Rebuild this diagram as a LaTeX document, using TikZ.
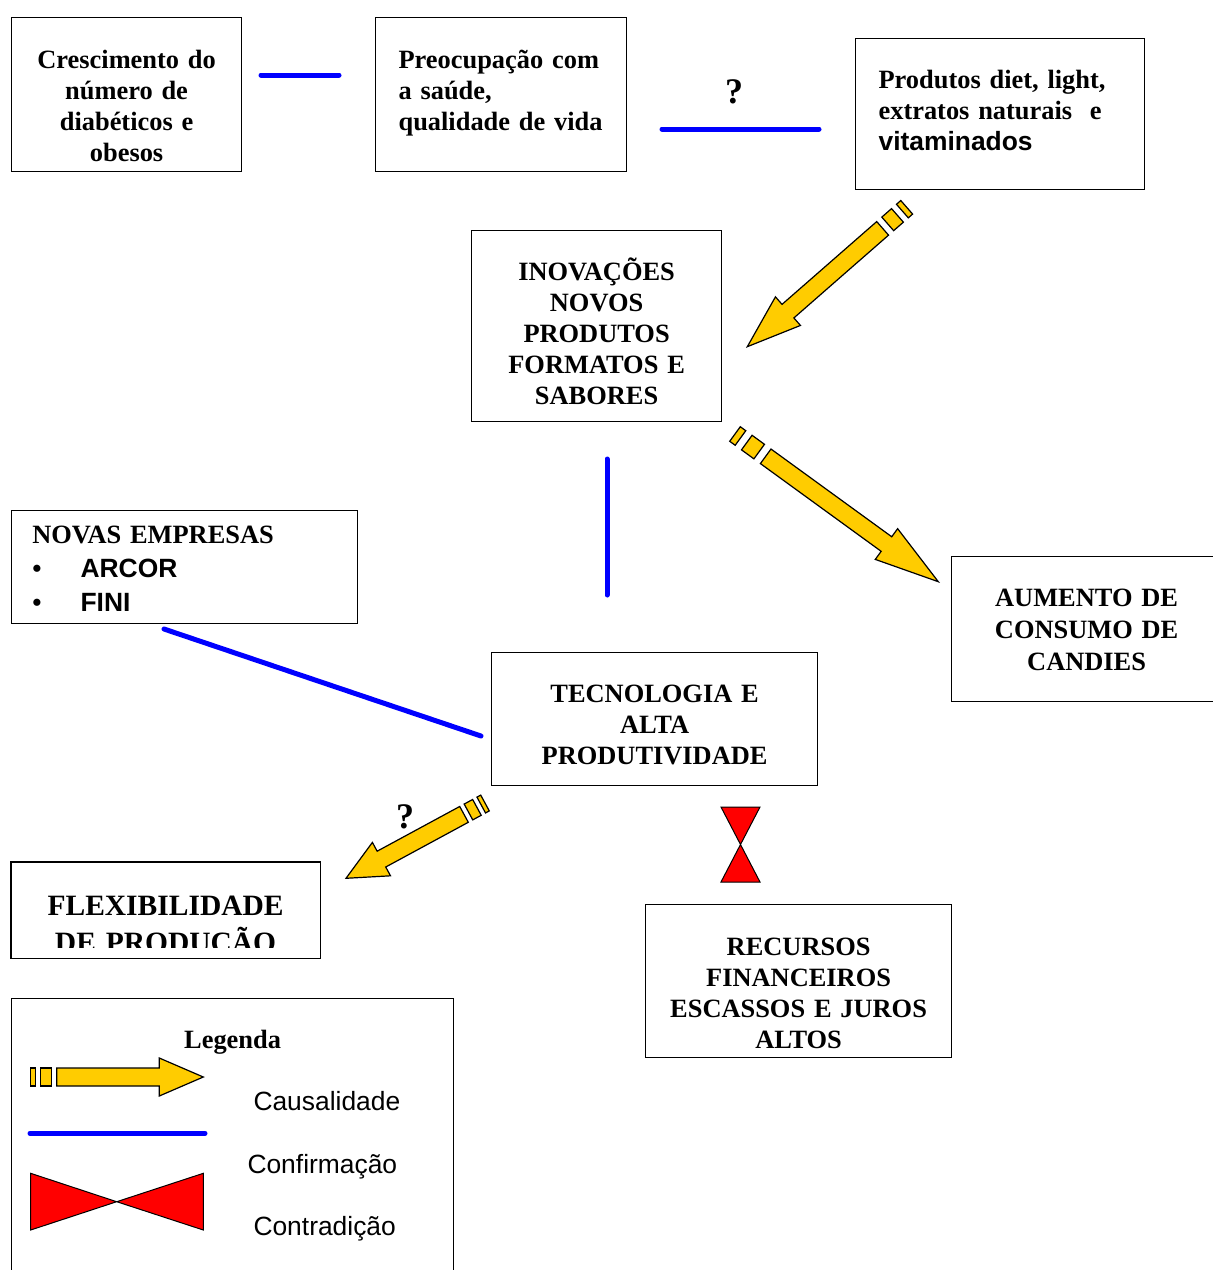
\documentclass[tikz,border=0pt]{standalone}
\usepackage{fontspec}
\setmainfont{Liberation Serif}
\setsansfont{Liberation Sans}
\usetikzlibrary{calc}

\definecolor{causalyellow}{RGB}{255,204,0}
\newcommand{\diagfont}{\bfseries\fontsize{26.4}{31}\selectfont}
\newcommand{\legfont}{\sffamily\fontsize{26.4}{31}\selectfont}

\tikzset{
  box/.style={draw, line width=1.2pt, inner sep=0pt, anchor=north west, font=\diagfont},
  boxline/.style={line width=1.2pt},
  confirm/.style={draw=blue, line width=5pt, line cap=round},
  causal/.style={fill=causalyellow, draw=black, line width=1.2pt, line join=miter},
  contra/.style={fill=red, draw=black, line width=1pt},
  qmark/.style={inner sep=0pt, font=\bfseries\fontsize{36}{40}\selectfont},
  legtext/.style={inner sep=0pt, anchor=base west, font=\legfont}
}

% block arrow with two stripes at the tail, from #1 to #2
\newcommand{\causalarrow}[2]{%
  \path let \p1=(#1), \p2=(#2) in
    \pgfextra{%
      \pgfmathparse{atan2(\y2-\y1,\x2-\x1)}\xdef\causalang{\pgfmathresult}%
      \pgfmathparse{veclen(\x2-\x1,\y2-\y1)}\xdef\causallen{\pgfmathresult}};
  \begin{scope}[shift={(#1)}, rotate=\causalang, x=\causallen pt, y=1pt]
    \filldraw[causal] (0,-9) rectangle (0.027,9);
    \filldraw[causal] (0.058,-9) rectangle (0.119,9);
    \filldraw[causal] (0.151,-9) -- (0.745,-9) -- (0.745,-19) -- (1,0)
      -- (0.745,19) -- (0.745,9) -- (0.151,9) -- cycle;
  \end{scope}}

\begin{document}
\begin{tikzpicture}[x=1pt, y=-1pt]
    \useasboundingbox (0,0) rectangle (1213,1270);
    \clip (0,0) rectangle (1213,1270);

    \node[box, align=center, minimum width=230pt, text width=220pt, text height=51.3pt, text depth=102.7pt]
      (cresc) at (11,17) {Crescimento do\\número de\\diabéticos e\\obesos};
    \node[box, align=left, minimum width=251pt, text width=205pt, text height=51.3pt, text depth=102.7pt]
      (saude) at (375,17) {Preocupação com\\a saúde,\\qualidade de vida};
    \node[box, align=left, minimum width=289pt, text width=243pt, text height=49.7pt, text depth=101.3pt]
      (diet) at (855,38) {Produtos diet, light,\\extratos naturais\ \ e\\{\sffamily vitaminados}};
    \node[box, align=center, minimum width=250pt, text width=240pt, text height=50pt, text depth=141pt]
      (inov) at (471,230) {INOVAÇÕES\\NOVOS\\PRODUTOS\\FORMATOS E\\SABORES};
    \node[box, align=left, minimum width=346pt, text width=304.6pt, text height=33.3pt, text depth=79.7pt,
      font=\diagfont\fontsize{26.4}{34}\selectfont]
      (empresas) at (11,510) {NOVAS EMPRESAS\\\makebox[48.3pt][l]{\textbullet}{\sffamily ARCOR}\\\makebox[48.3pt][l]{\textbullet}{\sffamily FINI}};
    \node[box, align=center, minimum width=270pt, text width=260pt, text height=50pt, text depth=95pt,
      font=\diagfont\fontsize{26.4}{32}\selectfont]
      (consumo) at (951,556) {AUMENTO DE\\CONSUMO DE\\CANDIES};
    \node[box, align=center, minimum width=326pt, text width=316pt, text height=50pt, text depth=83pt]
      (tecno) at (491,652) {TECNOLOGIA E\\ALTA\\PRODUTIVIDADE};
    \begin{scope}
      \clip (0,0) rectangle (1213,947);
      \node[box, draw=none, align=center, minimum width=308pt, text width=302pt, text height=53pt, text depth=42pt,
        font=\bfseries\fontsize{29.5}{37}\selectfont]
        (flex) at (11,862) {FLEXIBILIDADE\\DE PRODUÇÃO};
    \end{scope}
    \draw[boxline] (flex.north west) rectangle (flex.south east);
    \node[box, align=center, minimum width=306pt, text width=296pt, text height=51pt, text depth=102pt]
      (recursos) at (645,904) {RECURSOS\\FINANCEIROS\\ESCASSOS E JUROS\\ALTOS};
    \node[box, align=center, minimum width=442pt, text width=432pt, text height=50pt, text depth=242pt]
      (legenda) at (11,998) {Legenda};

    \coordinate (c1a) at (261,75);
    \coordinate (c1b) at (339,75);
    \coordinate (c2a) at (662,129);
    \coordinate (c2b) at (819,129);
    \coordinate (c3a) at (607,459);
    \coordinate (c3b) at (607,595);
    \coordinate (c4a) at (164,629);
    \coordinate (c4b) at (481,736);
    \draw[confirm] (c1a) -- (c1b);
    \draw[confirm] (c2a) -- (c2b);
    \draw[confirm] (c3a) -- (c3b);
    \draw[confirm] (c4a) -- (c4b);
    \node[qmark] (q1) at (734,92) {?};

    \coordinate (a1s) at (906.7,207.3);
    \coordinate (a1e) at (747.3,346.7);
    \coordinate (a2s) at (735,434);
    \coordinate (a2e) at (938.3,581.7);
    \coordinate (a3s) at (485,803);
    \coordinate (a3e) at (346,878.3);
    \causalarrow{a1s}{a1e}
    \causalarrow{a2s}{a2e}
    \causalarrow{a3s}{a3e}
    \node[qmark] (q2) at (405,817) {?};

    \filldraw[contra] (721,807) -- (760,807) -- (740.5,844.5) -- cycle
      (740.5,844.5) -- (760,882) -- (721,882) -- cycle;

    % legend
    \coordinate (l1s) at (30.7,1077);
    \coordinate (l1e) at (203.3,1077);
    \causalarrow{l1s}{l1e}
    \node[legtext] (causal) at (253.3,1110) {Causalidade};
    \coordinate (l2a) at (30,1133.3);
    \coordinate (l2b) at (205,1133.3);
    \draw[confirm] (l2a) -- (l2b);
    \node[legtext] (confirm) at (247.3,1173.3) {Confirmação};
    \filldraw[contra] (30.7,1173.3) -- (116.7,1201.7) -- (30.7,1230) -- cycle
      (116.7,1201.7) -- (203.3,1173.3) -- (203.3,1230) -- cycle;
    \node[legtext] (contra) at (253.3,1235) {Contradição};
\end{tikzpicture}
\end{document}
